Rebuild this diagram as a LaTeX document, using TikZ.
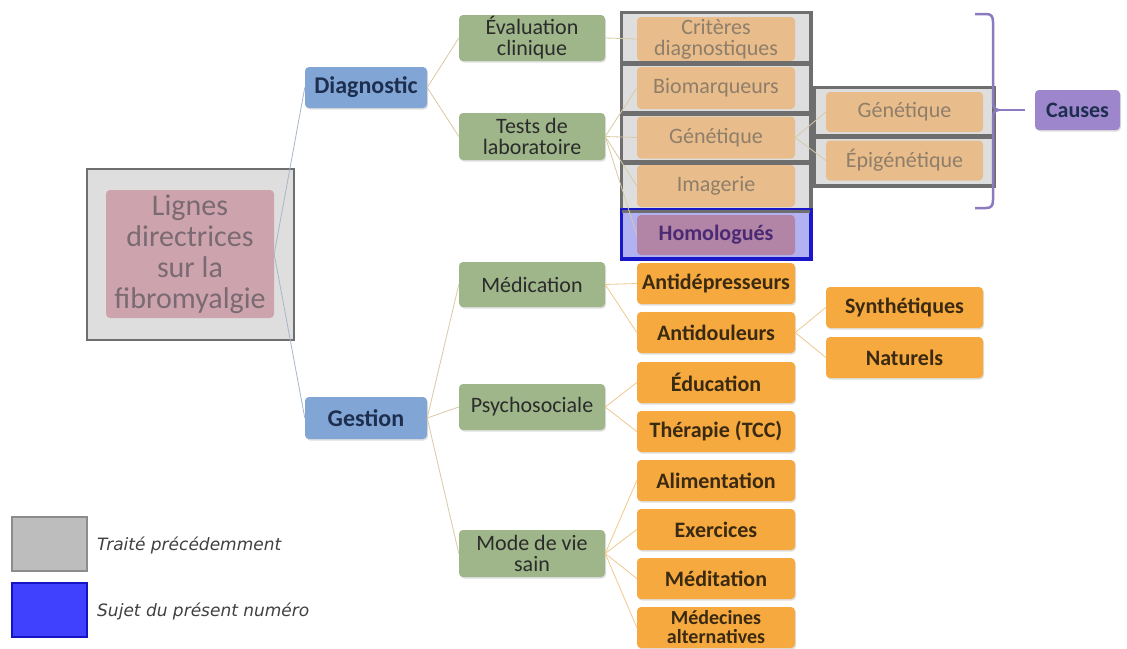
\documentclass[tikz,border=0pt]{standalone}
\usepackage{fontspec}
\setmainfont{Carlito}
\newfontfamily\legfont{DejaVu Sans}
\usetikzlibrary{shadows}
\definecolor{bluefill}{HTML}{81A6D6}
\definecolor{bluetext}{HTML}{1E2E4E}
\definecolor{greenfill}{HTML}{9EB689}
\definecolor{greentext}{HTML}{2B2B2B}
\definecolor{orangefill}{HTML}{F6A93E}
\definecolor{orangetext}{HTML}{3A2A12}
\definecolor{washfill}{HTML}{E8BD8B}
\definecolor{washtext}{HTML}{8F7E6A}
\definecolor{graybox}{HTML}{DEDEDE}
\definecolor{grayline}{HTML}{6E6E6E}
\definecolor{pinkfill}{HTML}{CDA3AE}
\definecolor{pinktext}{HTML}{7A6A72}
\definecolor{homfill}{HTML}{B284A6}
\definecolor{homtext}{HTML}{4A2A72}
\definecolor{homback}{HTML}{B2B2F2}
\definecolor{homline}{HTML}{1818C8}
\definecolor{purplefill}{HTML}{9E86CC}
\definecolor{purpleline}{HTML}{8C7AC0}
\definecolor{linkA}{HTML}{A9B6C6}
\definecolor{linkB}{HTML}{D9C9A6}
\definecolor{linkC}{HTML}{F0C98E}
\definecolor{leggray}{HTML}{BDBDBD}
\definecolor{leggrayline}{HTML}{8C8C8C}
\definecolor{legblue}{HTML}{4040FF}
\definecolor{legblueline}{HTML}{1414C4}
\tikzset{
  x=1pt, y=-1pt,
  box/.style={rounded corners=4pt, inner sep=0pt, align=flush center, draw=none},
  shade/.style={drop shadow={opacity=0.25, shadow xshift=1pt, shadow yshift=-1.5pt}},
  bluebox/.style={box, shade, fill=bluefill, text=bluetext, minimum width=122pt, minimum height=41pt,
     font=\fontsize{24}{26}\selectfont\bfseries},
  greenbox/.style={box, shade, fill=greenfill, text=greentext, minimum width=146pt, minimum height=46pt,
     text width=142pt, font=\fontsize{22}{21}\selectfont},
  orangebox/.style={box, shade, fill=orangefill, text=orangetext, minimum width=158pt, minimum height=41pt,
     text width=156pt, font=\fontsize{22}{20}\selectfont\bfseries},
  washbox/.style={box, fill=washfill, text=washtext, minimum width=158pt, minimum height=42pt,
     text width=156pt, font=\fontsize{22}{21}\selectfont},
  graycell/.style={draw=grayline, line width=2.5pt, fill=graybox, inner sep=0pt},
  linkroot/.style={draw=linkA, line width=0.8pt},
  linkmid/.style={draw=linkB, line width=0.8pt},
  linkleaf/.style={draw=linkC, line width=0.8pt},
  legtext/.style={anchor=west, inner sep=0pt, font=\legfont\fontsize{17}{19}\selectfont\itshape, text=black!75},
}
\begin{document}
\begin{tikzpicture}
\useasboundingbox (0,0) rectangle (1127,648);
\fill[white] (0,0) rectangle (1127,648);

% ---------- root ----------
\node[draw=grayline, line width=2.5pt, fill=graybox, minimum width=207pt, minimum height=171pt, inner sep=0pt] (rootbox) at (190.5,254.5) {};
\node[box, fill=pinkfill, text=pinktext, minimum width=168pt, minimum height=128pt, text width=166pt,
      font=\fontsize{30}{31}\selectfont] (root) at (190,254) {Lignes\\directrices\\sur la\\fibromyalgie};

% ---------- level 1 ----------
\node[bluebox] (diag) at (366,87.5) {Diagnostic};
\node[bluebox, minimum height=42pt] (gest) at (366,418) {Gestion};

% ---------- level 2 ----------
\node[greenbox] (eval) at (532,38) {Évaluation\\clinique};
\node[greenbox, minimum height=47pt] (tests) at (532,136.5) {Tests de\\laboratoire};
\node[greenbox, minimum height=45pt] (medic) at (532,284.5) {Médication};
\node[greenbox] (psycho) at (532,407) {Psychosociale};
\node[greenbox, minimum height=47pt] (mode) at (532,553.5) {Mode de vie\\sain};

% ---------- gray cells (previously treated) ----------
\node[graycell, minimum width=188pt, minimum height=50pt] (cellA) at (716,38) {};
\node[graycell, minimum width=188pt, minimum height=50pt] (cellB) at (716,88) {};
\node[graycell, minimum width=188pt, minimum height=49pt] (cellC) at (716,137.5) {};
\node[graycell, minimum width=188pt, minimum height=48pt] (cellD) at (716,186) {};
\node[draw=homline, line width=2.5pt, fill=homback, minimum width=188pt, minimum height=48pt, inner sep=0pt] (cellE) at (716,234) {};
\node[graycell, minimum width=178pt, minimum height=48pt] (cellF) at (904,112) {};
\node[graycell, minimum width=178pt, minimum height=49pt] (cellG) at (904,160.5) {};

\node[washbox, minimum height=44pt] (crit) at (716,39) {Critères\\diagnostiques};
\node[washbox] (bio) at (716,88) {Biomarqueurs};
\node[washbox] (gen) at (716,137.5) {Génétique};
\node[washbox] (imag) at (716,186) {Imagerie};
\node[box, fill=homfill, text=homtext, minimum width=158pt, minimum height=40pt, font=\fontsize{22}{24}\selectfont\bfseries] (homo) at (716,235) {Homologués};
\node[washbox, minimum width=157pt, minimum height=40pt] (gen2) at (904.5,112) {Génétique};
\node[washbox, minimum width=157pt, minimum height=40pt] (epi) at (904.5,160.5) {Épigénétique};

% re-stroke the cell borders over the inner boxes
\foreach \c in {cellA,cellB,cellC,cellD,cellF,cellG}{
  \draw[grayline, line width=2.5pt] (\c.north west) rectangle (\c.south east);
}
\draw[homline, line width=2.5pt] (cellE.north west) rectangle (cellE.south east);

% ---------- orange leaves ----------
\node[orangebox] (antidep) at (716,283.5) {Antidépresseurs};
\node[orangebox] (antidoul) at (716,332.5) {Antidouleurs};
\node[orangebox] (educ) at (716,382.5) {Éducation};
\node[orangebox] (thera) at (716,431.5) {Thérapie (TCC)};
\node[orangebox] (alim) at (716,480.5) {Alimentation};
\node[orangebox] (exer) at (716,529.5) {Exercices};
\node[orangebox] (medit) at (716,578.5) {Méditation};
\node[orangebox, minimum height=41pt, font=\fontsize{20}{19}\selectfont\bfseries] (medalt) at (716,627.5) {Médecines\\alternatives};
\node[orangebox, minimum width=157pt] (synth) at (904.5,307.5) {Synthétiques};
\node[orangebox, minimum width=157pt] (natur) at (904.5,357.5) {Naturels};

% ---------- causes ----------
\node[box, shade, fill=purplefill, text=bluetext, minimum width=85pt, minimum height=40pt,
      font=\fontsize{22}{24}\selectfont\bfseries] (causes) at (1077.5,110) {Causes};
\coordinate (bracetip) at (999,110);
\coordinate (bracelink) at (1025,110);
\draw[purpleline, line width=2.5pt, line join=round]
  (975,14) -- (986,14) .. controls (991,14) and (993,16) .. (993,22) -- (993,103)
  .. controls (993,107) and (995,110) .. (bracetip)
  .. controls (995,110) and (993,113) .. (993,117) -- (993,200)
  .. controls (993,206) and (991,208) .. (986,208) -- (975,208);
\draw[purpleline, line width=2.5pt] (bracetip) -- (bracelink);

% ---------- connectors ----------
\draw[linkroot] (root.east) -- (diag.west);
\draw[linkroot] (root.east) -- (gest.west);
\draw[linkmid] (diag.east) -- (eval.west);
\draw[linkmid] (diag.east) -- (tests.west);
\draw[linkmid] (gest.east) -- (medic.west);
\draw[linkmid] (gest.east) -- (psycho.west);
\draw[linkmid] (gest.east) -- (mode.west);
\draw[linkmid] (eval.east) -- (crit.west);
\draw[linkmid] (tests.east) -- (bio.west);
\draw[linkmid] (tests.east) -- (gen.west);
\draw[linkmid] (tests.east) -- (imag.west);
\draw[linkmid] (tests.east) -- (homo.west);
\draw[linkmid] (gen.east) -- (gen2.west);
\draw[linkmid] (gen.east) -- (epi.west);
\draw[linkleaf] (medic.east) -- (antidep.west);
\draw[linkleaf] (medic.east) -- (antidoul.west);
\draw[linkleaf] (antidoul.east) -- (synth.west);
\draw[linkleaf] (antidoul.east) -- (natur.west);
\draw[linkleaf] (psycho.east) -- (educ.west);
\draw[linkleaf] (psycho.east) -- (thera.west);
\draw[linkleaf] (mode.east) -- (alim.west);
\draw[linkleaf] (mode.east) -- (exer.west);
\draw[linkleaf] (mode.east) -- (medit.west);
\draw[linkleaf] (mode.east) -- (medalt.west);

% ---------- legend ----------
\node[draw=leggrayline, line width=2.5pt, fill=leggray, minimum width=75pt, minimum height=54pt, inner sep=0pt] (leggray) at (49.5,544) {};
\node[draw=legblueline, line width=2.5pt, fill=legblue, minimum width=75pt, minimum height=54pt, inner sep=0pt] (legblue) at (49.5,610) {};
\node[legtext] (legA) at (97,545) {Traité précédemment};
\node[legtext] (legB) at (97,611) {Sujet du présent numéro};
\end{tikzpicture}
\end{document}
